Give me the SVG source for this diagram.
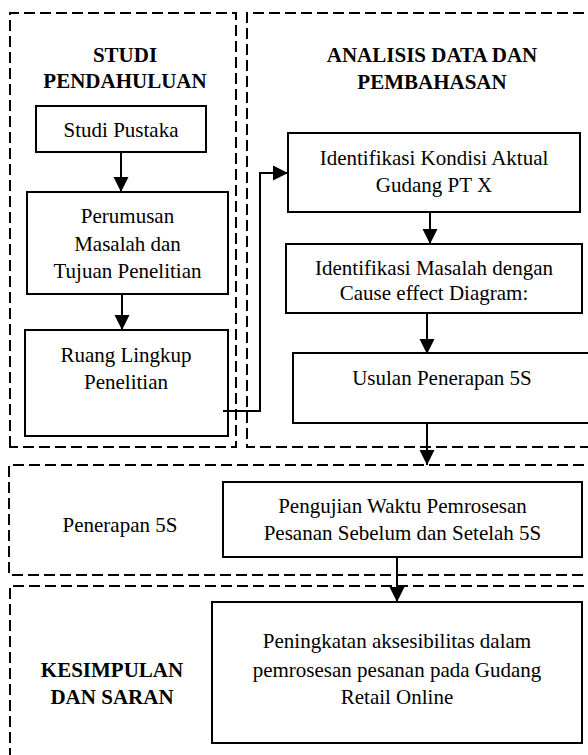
<svg xmlns="http://www.w3.org/2000/svg" width="588" height="755" viewBox="0 0 588 755">
<style>
.dash{fill:none;stroke:#000;stroke-width:2;stroke-dasharray:11 5}
.box{fill:#fff;stroke:#000;stroke-width:2}
.t{font-family:"Liberation Serif","Times New Roman",serif;font-size:21px;fill:#000;text-anchor:middle}
.b{font-weight:bold}
.c{fill:none;stroke:#000;stroke-width:2}
</style>
<defs>
<marker id="ah" markerUnits="userSpaceOnUse" markerWidth="16" markerHeight="16" viewBox="0 0 16 16" refX="15" refY="8" orient="auto">
<path d="M0,0.5 L15,8 L0,15.5 Z" fill="#000"/>
</marker>
</defs>
<rect width="588" height="755" fill="#fff"/>
<g id="studi-pendahuluan">
<path class="dash" d="M10 447 V13 H236 V447 Z"/>
<text class="t b" x="125" y="62">STUDI</text>
<text class="t b" x="125" y="88">PENDAHULUAN</text>
</g>
<g id="analisis-data">
<path class="dash" d="M600 13 H247 V447 H600"/>
<text class="t b" x="432" y="62">ANALISIS DATA DAN</text>
<text class="t b" x="432" y="89">PEMBAHASAN</text>
</g>
<g id="penerapan-5s">
<path class="dash" d="M600 465 H9 V575 H600"/>
<text class="t" x="120" y="532">Penerapan 5S</text>
</g>
<g id="kesimpulan">
<path class="dash" d="M600 586 H10 V770"/>
<text class="t b" x="112" y="677">KESIMPULAN</text>
<text class="t b" x="112" y="704">DAN SARAN</text>
</g>
<g id="studi-pustaka">
<rect class="box" x="36" y="106" width="170" height="46"/>
<text class="t" x="121" y="137">Studi Pustaka</text>
</g>
<g id="perumusan">
<rect class="box" x="27" y="192" width="201" height="102"/>
<text class="t" x="127.5" y="223">Perumusan</text>
<text class="t" x="127.5" y="251">Masalah dan</text>
<text class="t" x="127.5" y="278">Tujuan Penelitian</text>
</g>
<g id="ruang-lingkup">
<rect class="box" x="25" y="330" width="203" height="106"/>
<text class="t" x="126" y="362">Ruang Lingkup</text>
<text class="t" x="126" y="389">Penelitian</text>
</g>
<g id="identifikasi-kondisi">
<rect class="box" x="288" y="133" width="292" height="79"/>
<text class="t" x="434" y="165">Identifikasi Kondisi Aktual</text>
<text class="t" x="434" y="192">Gudang PT X</text>
</g>
<g id="identifikasi-masalah">
<rect class="box" x="286" y="244" width="296" height="69"/>
<text class="t" x="434" y="275">Identifikasi Masalah dengan</text>
<text class="t" x="434" y="300">Cause effect Diagram:</text>
</g>
<g id="usulan">
<path class="box" d="M600 353 H293 V423 H600"/>
<text class="t" x="442" y="385">Usulan Penerapan 5S</text>
</g>
<g id="pengujian">
<rect class="box" x="223" y="482" width="359" height="75"/>
<text class="t" x="402.5" y="513">Pengujian Waktu Pemrosesan</text>
<text class="t" x="402.5" y="540">Pesanan Sebelum dan Setelah 5S</text>
</g>
<g id="peningkatan">
<rect class="box" x="212" y="602" width="370" height="141"/>
<text class="t" x="397" y="648">Peningkatan aksesibilitas dalam</text>
<text class="t" x="397" y="677">pemrosesan pesanan pada Gudang</text>
<text class="t" x="397" y="704">Retail Online</text>
</g>
<g id="connectors">
<path class="c" d="M121 152 V192" marker-end="url(#ah)"/>
<path class="c" d="M122 294 V330" marker-end="url(#ah)"/>
<path class="c" d="M223 411 H260 V173 H288" marker-end="url(#ah)"/>
<path class="c" d="M430 212 V244" marker-end="url(#ah)"/>
<path class="c" d="M427 313 V354" marker-end="url(#ah)"/>
<path class="c" d="M427 423 V465" marker-end="url(#ah)"/>
<path class="c" d="M397 557 V602" marker-end="url(#ah)"/>
</g>
</svg>
